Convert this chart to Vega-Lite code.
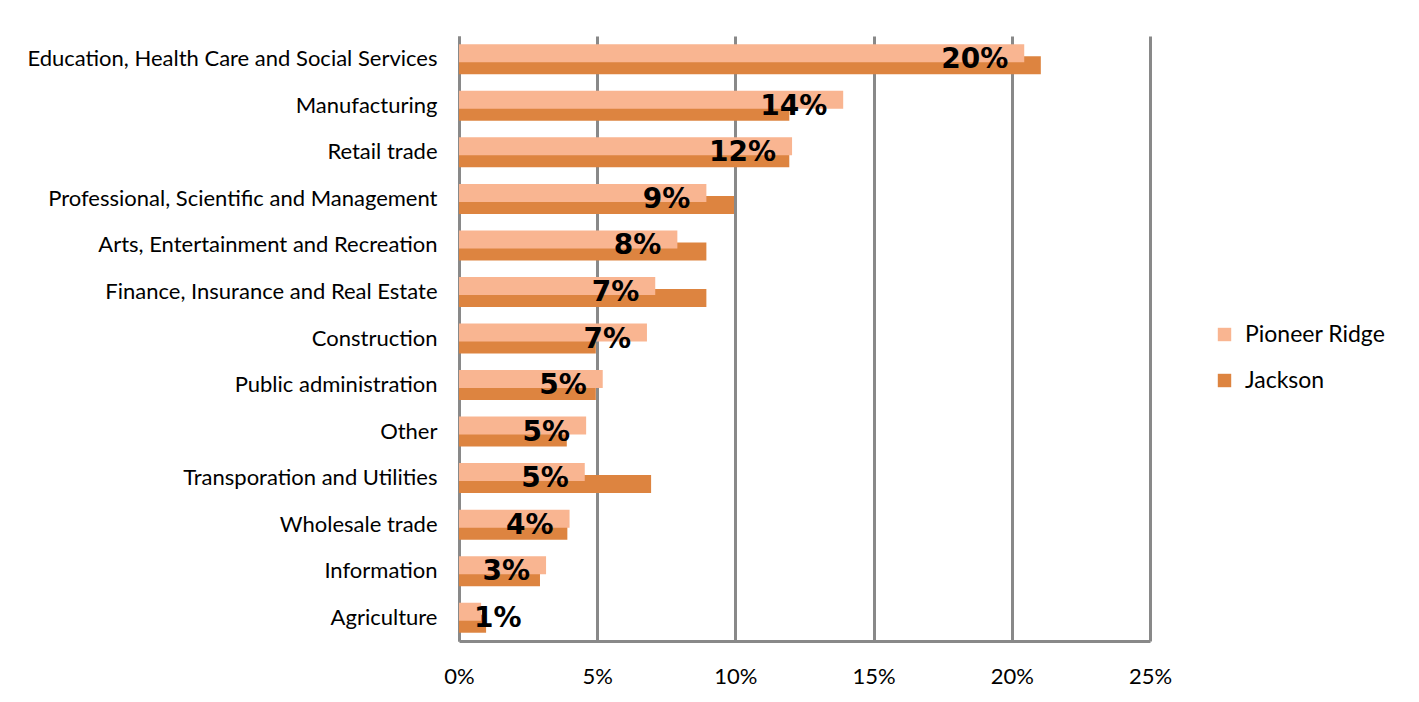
{
  "$schema": "https://vega.github.io/schema/vega-lite/v6.json",
  "autosize": "none",
  "width": 691,
  "height": 605,
  "padding": {"left": 459, "top": 36, "right": 269, "bottom": 61},
  "background": "white",
  "config": {
    "view": {"stroke": null},
    "font": "Lato"
  },
  "data": {
    "values": [
      {"industry": "Education, Health Care and Social Services", "series": "Pioneer Ridge", "value": 0.2045},
      {"industry": "Education, Health Care and Social Services", "series": "Jackson", "value": 0.2105},
      {"industry": "Manufacturing", "series": "Pioneer Ridge", "value": 0.139},
      {"industry": "Manufacturing", "series": "Jackson", "value": 0.1195},
      {"industry": "Retail trade", "series": "Pioneer Ridge", "value": 0.1205},
      {"industry": "Retail trade", "series": "Jackson", "value": 0.1195},
      {"industry": "Professional, Scientific and Management", "series": "Pioneer Ridge", "value": 0.0895},
      {"industry": "Professional, Scientific and Management", "series": "Jackson", "value": 0.0995},
      {"industry": "Arts, Entertainment and Recreation", "series": "Pioneer Ridge", "value": 0.079},
      {"industry": "Arts, Entertainment and Recreation", "series": "Jackson", "value": 0.0895},
      {"industry": "Finance, Insurance and Real Estate", "series": "Pioneer Ridge", "value": 0.071},
      {"industry": "Finance, Insurance and Real Estate", "series": "Jackson", "value": 0.0895},
      {"industry": "Construction", "series": "Pioneer Ridge", "value": 0.068},
      {"industry": "Construction", "series": "Jackson", "value": 0.0495},
      {"industry": "Public administration", "series": "Pioneer Ridge", "value": 0.052},
      {"industry": "Public administration", "series": "Jackson", "value": 0.0495},
      {"industry": "Other", "series": "Pioneer Ridge", "value": 0.046},
      {"industry": "Other", "series": "Jackson", "value": 0.039},
      {"industry": "Transporation and Utilities", "series": "Pioneer Ridge", "value": 0.0455},
      {"industry": "Transporation and Utilities", "series": "Jackson", "value": 0.0695},
      {"industry": "Wholesale trade", "series": "Pioneer Ridge", "value": 0.04},
      {"industry": "Wholesale trade", "series": "Jackson", "value": 0.0392},
      {"industry": "Information", "series": "Pioneer Ridge", "value": 0.0315},
      {"industry": "Information", "series": "Jackson", "value": 0.0293},
      {"industry": "Agriculture", "series": "Pioneer Ridge", "value": 0.008},
      {"industry": "Agriculture", "series": "Jackson", "value": 0.0098}
    ]
  },
  "encoding": {
    "y": {
      "field": "industry",
      "type": "nominal",
      "sort": [
        "Education, Health Care and Social Services",
        "Manufacturing",
        "Retail trade",
        "Professional, Scientific and Management",
        "Arts, Entertainment and Recreation",
        "Finance, Insurance and Real Estate",
        "Construction",
        "Public administration",
        "Other",
        "Transporation and Utilities",
        "Wholesale trade",
        "Information",
        "Agriculture"
      ],
      "scale": {"paddingInner": 0, "paddingOuter": 0},
      "axis": {
        "title": null,
        "domain": true,
        "domainColor": "#898989",
        "domainWidth": 3,
        "ticks": false,
        "grid": false,
        "labelFont": "Lato",
        "labelFontSize": 22,
        "labelColor": "#000000",
        "labelPadding": 22,
        "labelLimit": 500
      }
    },
    "x": {
      "field": "value",
      "type": "quantitative",
      "scale": {"domain": [0, 0.25], "nice": false},
      "axis": {
        "title": null,
        "values": [0, 0.05, 0.1, 0.15, 0.2, 0.25],
        "format": ".0%",
        "domain": true,
        "domainColor": "#898989",
        "domainWidth": 3,
        "ticks": false,
        "grid": true,
        "gridColor": "#898989",
        "gridWidth": 3,
        "labelFlush": false,
        "labelFont": "Lato",
        "labelFontSize": 22,
        "labelColor": "#000000",
        "labelPadding": 25
      }
    }
  },
  "layer": [
    {
      "transform": [{"filter": "datum.series === 'Jackson'"}],
      "mark": {"type": "bar", "height": 18, "yOffset": 6},
      "encoding": {
        "color": {
          "field": "series",
          "type": "nominal",
          "scale": {"domain": ["Pioneer Ridge", "Jackson"], "range": ["#F9B591", "#DD8440"]},
          "legend": {
            "title": null,
            "orient": "none",
            "legendX": 754,
            "legendY": 287,
            "symbolType": "square",
            "symbolSize": 180,
            "symbolStrokeWidth": 0,
            "labelFont": "Lato",
            "labelFontSize": 23,
            "labelColor": "#000000",
            "labelOffset": 9,
            "rowPadding": 22
          }
        }
      }
    },
    {
      "transform": [{"filter": "datum.series === 'Pioneer Ridge'"}],
      "mark": {"type": "bar", "height": 18, "yOffset": -6},
      "encoding": {
        "color": {"field": "series", "type": "nominal"}
      }
    },
    {
      "transform": [{"filter": "datum.series === 'Pioneer Ridge' && datum.value >= 0.02"}],
      "mark": {"type": "text", "align": "right", "baseline": "middle", "dx": -16, "dy": 1, "font": "DejaVu Sans", "fontWeight": "bold", "fontSize": 28, "color": "#000000"},
      "encoding": {
        "text": {"field": "value", "type": "quantitative", "format": ".0%"}
      }
    },
    {
      "transform": [{"filter": "datum.series === 'Pioneer Ridge' && datum.value < 0.02"}],
      "mark": {"type": "text", "align": "left", "baseline": "middle", "dx": -7, "dy": 1, "font": "DejaVu Sans", "fontWeight": "bold", "fontSize": 28, "color": "#000000"},
      "encoding": {
        "text": {"field": "value", "type": "quantitative", "format": ".0%"}
      }
    }
  ]
}
